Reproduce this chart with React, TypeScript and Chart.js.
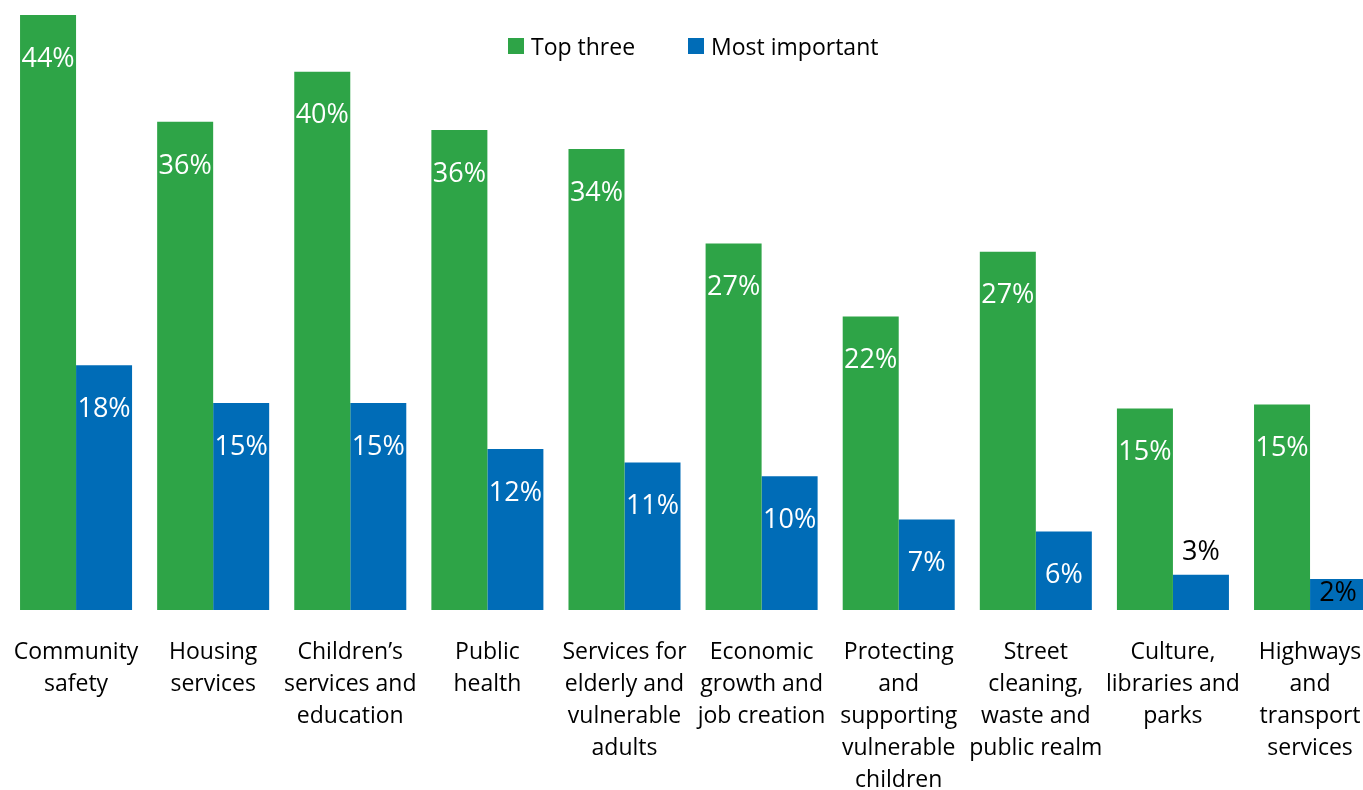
import React, { useEffect, useRef } from "react";
import { Chart, registerables } from "chart.js";

Chart.register(...registerables);

const categories: string[][] = [
  ["Community", "safety"],
  ["Housing", "services"],
  ["Children’s", "services and", "education"],
  ["Public", "health"],
  ["Services for", "elderly and", "vulnerable", "adults"],
  ["Economic", "growth and", "job creation"],
  ["Protecting", "and", "supporting", "vulnerable", "children"],
  ["Street", "cleaning,", "waste and", "public realm"],
  ["Culture,", "libraries and", "parks"],
  ["Highways", "and", "transport", "services"],
];

const seriesNames = ["Top three", "Most important"];
const topThree = [44.0, 36.1, 39.8, 35.5, 34.1, 27.1, 21.7, 26.5, 14.9, 15.2];
const mostImportant = [18.1, 15.3, 15.3, 11.9, 10.9, 9.9, 6.7, 5.8, 2.6, 2.3];

const seriesColors = ["#2EA447", "#006CB7"];
const FONT = '"Open Sans", "Noto Sans", sans-serif';

const labelPlugin = {
  id: "barValueLabels",
  afterDatasetsDraw(chart: any) {
    const ctx = chart.ctx;
    ctx.save();
    ctx.font = `27px ${FONT}`;
    ctx.textAlign = "center";
    ctx.textBaseline = "middle";
    chart.data.datasets.forEach((ds: any, di: number) => {
      const meta = chart.getDatasetMeta(di);
      meta.data.forEach((bar: any, i: number) => {
        const v = ds.data[i] as number;
        const text = Math.round(v) + "%";
        const h = bar.base - bar.y;
        let y: number;
        let color: string;
        if (h > 60) {
          y = bar.y + 44;
          color = "#ffffff";
        } else if (v >= 2.5) {
          y = bar.y - 23;
          color = "#000000";
        } else {
          y = bar.base - 17;
          color = "#000000";
        }
        ctx.fillStyle = color;
        ctx.fillText(text, bar.x, y);
      });
    });
    ctx.restore();
  },
};

const CANVAS_W = 1390;
const CANVAS_H = 790;

export default function App() {
  const canvasRef = useRef<HTMLCanvasElement | null>(null);

  useEffect(() => {
    document.documentElement.style.overflow = "hidden";
    document.body.style.overflow = "hidden";
    const canvas = canvasRef.current;
    if (!canvas) return;
    const chart = new Chart(canvas, {
      type: "bar",
      data: {
        labels: categories,
        datasets: [
          {
            label: seriesNames[0],
            data: topThree,
            backgroundColor: seriesColors[0],
            borderWidth: 0,
            barPercentage: 1,
            categoryPercentage: 0.817,
          },
          {
            label: seriesNames[1],
            data: mostImportant,
            backgroundColor: seriesColors[1],
            borderWidth: 0,
            barPercentage: 1,
            categoryPercentage: 0.817,
          },
        ],
      },
      options: {
        animation: false,
        responsive: false,
        maintainAspectRatio: false,
        layout: {
          padding: { left: 7.5, right: CANVAS_W - 1378.6, top: 15, bottom: 0 },
        },
        plugins: {
          legend: { display: false },
          tooltip: { enabled: false },
        },
        scales: {
          x: {
            offset: true,
            grid: { display: false, drawTicks: false },
            border: { display: false },
            ticks: {
              color: "#000000",
              font: { family: FONT, size: 23, lineHeight: 1.4 },
              padding: 26,
              maxRotation: 0,
              minRotation: 0,
              autoSkip: false,
            },
            afterFit: (scale: any) => {
              scale.height = 180;
              scale.paddingLeft = 0;
              scale.paddingRight = 0;
            },
          },
          y: {
            display: false,
            min: 0,
            max: 44,
          },
        },
      },
      plugins: [labelPlugin],
    });
    return () => chart.destroy();
  }, []);

  return (
    <div style={{ position: "absolute", left: 0, top: 0, width: CANVAS_W, height: CANVAS_H }}>
      <canvas
        ref={canvasRef}
        width={CANVAS_W}
        height={CANVAS_H}
        style={{ display: "block", width: CANVAS_W, height: CANVAS_H }}
      />
      <div
        style={{
          position: "absolute",
          left: 508,
          top: 30,
          display: "flex",
          alignItems: "center",
          fontFamily: FONT,
          fontSize: 23,
          lineHeight: "32px",
          color: "#000",
          whiteSpace: "nowrap",
        }}
      >
        {seriesNames.map((name, i) => (
          <div
            key={name}
            style={{ display: "flex", alignItems: "center", marginRight: i === 0 ? 53 : 0 }}
          >
            <span
              style={{
                display: "inline-block",
                width: 16,
                height: 16,
                background: seriesColors[i],
                marginRight: 7,
              }}
            />
            <span>{name}</span>
          </div>
        ))}
      </div>
    </div>
  );
}
